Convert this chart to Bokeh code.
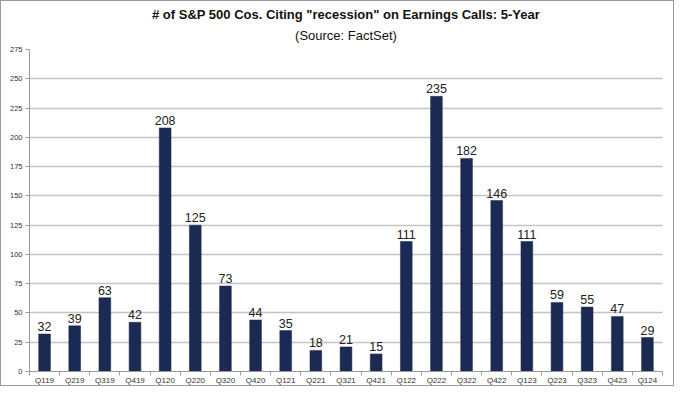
from bokeh.plotting import figure
from bokeh.models import ColumnDataSource, FixedTicker, Title, Range1d, LabelSet
from bokeh.core.properties import value
from bokeh.embed import file_html
from bokeh.resources import INLINE

quarters = ["Q119", "Q219", "Q319", "Q419", "Q120", "Q220", "Q320", "Q420", "Q121", "Q221",
            "Q321", "Q421", "Q122", "Q222", "Q322", "Q422", "Q123", "Q223", "Q323", "Q423", "Q124"]
counts = [32, 39, 63, 42, 208, 125, 73, 44, 35, 18, 21, 15, 111, 235, 182, 146, 111, 59, 55, 47, 29]
y_ticks = [0, 25, 50, 75, 100, 125, 150, 175, 200, 225, 250, 275]
title_text = '# of S&P 500 Cos. Citing "recession" on Earnings Calls: 5-Year'
subtitle_text = "(Source: FactSet)"

pos = [i + 0.5 for i in range(len(quarters))]
src = ColumnDataSource(dict(x=pos, y=counts, label=[str(c) for c in counts]))

p = figure(width=674, height=386, output_backend="svg", toolbar_location=None,
           x_range=Range1d(0, len(quarters)), y_range=Range1d(0, 275),
           min_border_left=28, min_border_right=13, min_border_top=10, min_border_bottom=10,
           styles={"border": "1px solid #9a9a9a"})
p.title = None
p.add_layout(Title(text=subtitle_text, align="center", text_font="Liberation Sans",
                   text_font_size="13px", text_font_style="normal", text_color="#111111",
                   standoff=14, text_line_height=0.8), "above")
p.add_layout(Title(text=title_text, align="center",
                   text_font="Liberation Sans", text_font_size="13px", text_font_style="bold",
                   text_color="#111111", standoff=-7, text_line_height=0.8), "above")
p.add_layout(Title(text=" ", text_font_size="4px", standoff=0), "above")

p.vbar(x="x", top="y", width=0.39, bottom=0, source=src, fill_color="#1B2A52",
       line_color="#1B2A52", line_width=0.5)
p.add_layout(LabelSet(x="x", y="y", text="label", source=src, text_align="center",
                      text_baseline="bottom", y_offset=3, text_font=value("Liberation Sans"),
                      text_font_size=value("12.5px"), text_color=value("#222222")))

p.outline_line_color = None
p.background_fill_color = "white"
p.border_fill_color = "white"

p.xgrid.visible = False
p.ygrid.ticker = FixedTicker(ticks=y_ticks[1:])
p.ygrid.grid_line_color = "#c4c4c4"
p.ygrid.grid_line_width = 1.5

yax = p.yaxis[0]
yax.ticker = FixedTicker(ticks=y_ticks)
yax.axis_line_color = "#9a9a9a"
yax.major_tick_line_color = "#9a9a9a"
yax.major_tick_out = 4
yax.major_tick_in = 0
yax.minor_tick_line_color = None
yax.major_label_text_font = "Liberation Sans"
yax.major_label_text_font_size = "7.5px"
yax.major_label_text_color = "#333333"
yax.major_label_standoff = 3

xax = p.xaxis[0]
xax.ticker = FixedTicker(ticks=pos, minor_ticks=list(range(len(quarters) + 1)))
xax.major_label_overrides = {p_: q for p_, q in zip(pos, quarters)}
xax.axis_line_color = "#9a9a9a"
xax.major_tick_line_color = None
xax.major_tick_out = 0
xax.major_tick_in = 0
xax.minor_tick_line_color = "#9a9a9a"
xax.minor_tick_out = 4
xax.minor_tick_in = 0
xax.major_label_text_font = "Liberation Sans"
xax.major_label_text_font_size = "8px"
xax.major_label_text_color = "#333333"
xax.major_label_standoff = 0

open("out.html", "w").write(file_html(p, INLINE))
